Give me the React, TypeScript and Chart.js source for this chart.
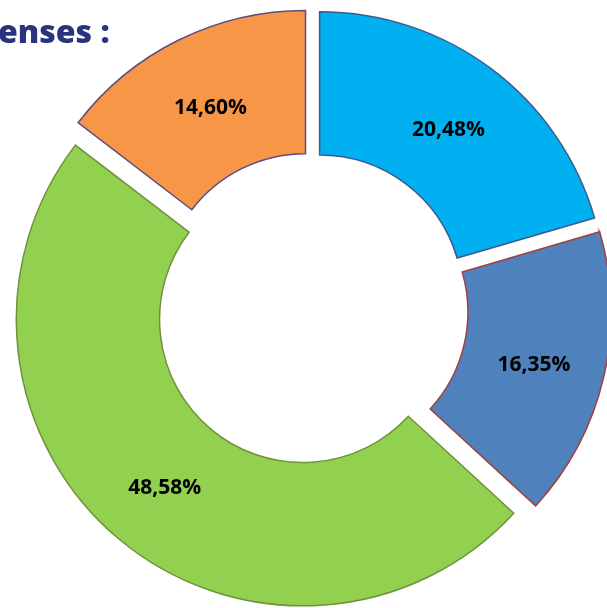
import React, { useEffect, useRef } from 'react';
import { Chart, registerables } from 'chart.js';

Chart.register(...registerables);

const titleText = 'enses :';
const categories = ['Part 1', 'Part 2', 'Part 3', 'Part 4'];
const values = [20.48, 16.35, 48.58, 14.6];
const fillColors = ['#00B0F0', '#4F81BD', '#92D050', '#F79646'];
const borderColors = ['#3C5A8C', '#A0413E', '#71913A', '#5F4C82'];
const explodeDistance = 13.5;

const formatValue = (v: number) => v.toFixed(2).replace('.', ',') + '%';

const explodePlugin = {
  id: 'explodeSlices',
  afterDatasetsUpdate(chart: any) {
    const meta = chart.getDatasetMeta(0);
    meta.data.forEach((arc: any) => {
      const mid = (arc.startAngle + arc.endAngle) / 2;
      arc.x += Math.cos(mid) * explodeDistance;
      arc.y += Math.sin(mid) * explodeDistance;
    });
  },
};

const labelPlugin = {
  id: 'sliceLabels',
  afterDatasetsDraw(chart: any) {
    const ctx = chart.ctx;
    const meta = chart.getDatasetMeta(0);
    ctx.save();
    ctx.font = 'bold 21px "Open Sans", sans-serif';
    ctx.fillStyle = '#000000';
    ctx.textAlign = 'center';
    ctx.textBaseline = 'middle';
    meta.data.forEach((arc: any, i: number) => {
      const mid = (arc.startAngle + arc.endAngle) / 2;
      const r = (arc.innerRadius + arc.outerRadius) / 2;
      ctx.fillText(formatValue(values[i]), arc.x + Math.cos(mid) * r, arc.y + Math.sin(mid) * r + 4);
    });
    ctx.restore();
  },
};

export default function App() {
  const canvasRef = useRef<HTMLCanvasElement | null>(null);

  useEffect(() => {
    if (!canvasRef.current) return;
    const chart = new Chart(canvasRef.current, {
      type: 'doughnut',
      data: {
        labels: categories,
        datasets: [
          {
            data: values,
            backgroundColor: fillColors,
            borderColor: borderColors,
            borderWidth: 1.5,
            borderJoinStyle: 'miter',
            radius: 286.5,
            cutout: '50%',
          } as any,
        ],
      },
      options: {
        responsive: false,
        animation: false,
        layout: { padding: { left: 16, top: 10, right: 0, bottom: 0 } },
        plugins: {
          legend: { display: false },
          tooltip: { enabled: false },
        },
      } as any,
      plugins: [explodePlugin, labelPlugin],
    });
    return () => chart.destroy();
  }, []);

  return (
    <div>
      <canvas
        ref={canvasRef}
        width={607}
        height={608}
        style={{ position: 'absolute', left: 0, top: 0, width: 607, height: 608 }}
      />
      <div
        style={{
          position: 'absolute',
          left: -2,
          top: 15,
          fontFamily: '"Open Sans", sans-serif',
          fontWeight: 800,
          fontSize: 32,
          lineHeight: '32px',
          color: '#28347E',
          whiteSpace: 'nowrap',
        }}
      >
        {titleText}
      </div>
    </div>
  );
}
